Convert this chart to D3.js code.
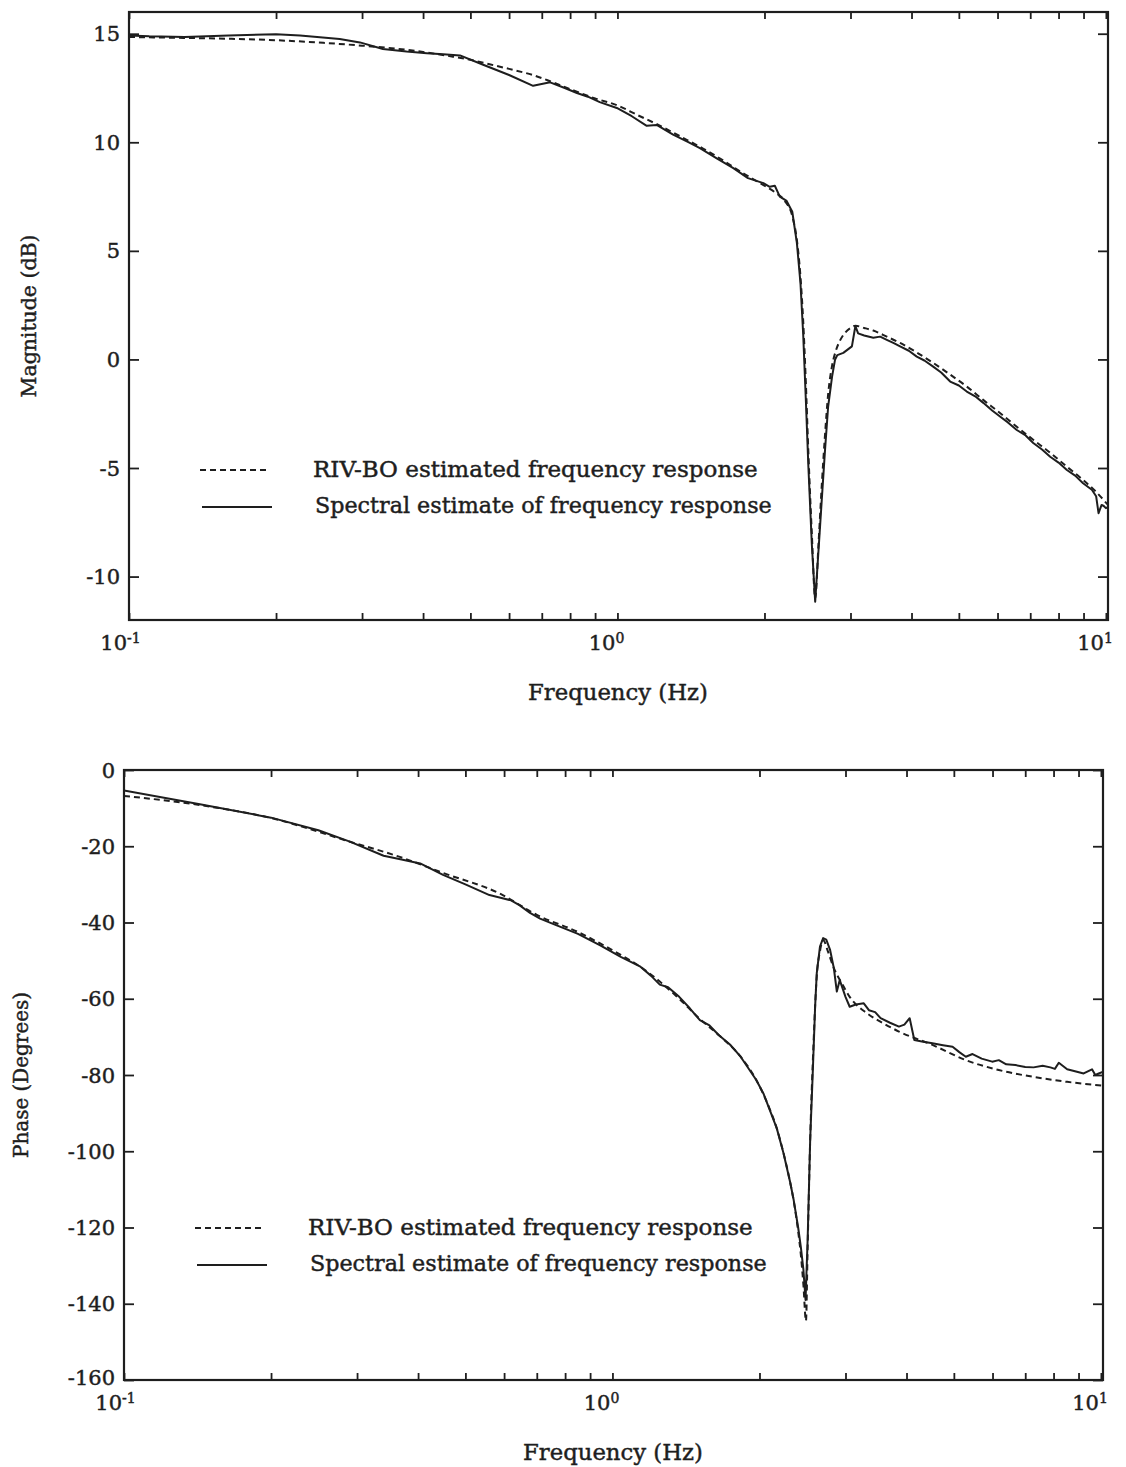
<!DOCTYPE html>
<html>
<head>
<meta charset="utf-8">
<script src="https://cdn.jsdelivr.net/npm/d3@7"></script>
<style>
  body { margin: 0; background: #fff; }
  svg { display: block; }
  text { stroke: #1e1e1e; stroke-width: 0.45px; }
</style>
</head>
<body>
<svg id="chart" width="1126" height="1467"></svg>
<script>
// ---------- Data ----------
// Frequency axis (Hz)
const freqDomain = [0.1, 10.1];
const decadeTicks = [0.1, 1, 10];
const decadeExponents = ["-1", "0", "1"];
const minorFreqTicks = [0.2, 0.3, 0.4, 0.5, 0.6, 0.7, 0.8, 0.9, 2, 3, 4, 5, 6, 7, 8, 9];

// Magnitude (dB) axis
const magDomain = [-12, 16];
const magTicks = [15, 10, 5, 0, -5, -10];

// Phase (degrees) axis
const phaseDomain = [-160, 0];
const phaseTicks = [0, -20, -40, -60, -80, -100, -120, -140, -160];

const legendLabels = ["RIV-BO estimated frequency response", "Spectral estimate of frequency response"];

// Magnitude: RIV-BO model response
const magRivFreq = [0.1, 0.12, 0.15, 0.2, 0.25, 0.3, 0.35, 0.4, 0.45, 0.5, 0.55, 0.6, 0.67, 0.73, 0.8, 0.9, 1.0, 1.1, 1.2, 1.35, 1.5, 1.65, 1.8, 2.0, 2.1, 2.2, 2.28, 2.33, 2.37, 2.4, 2.43, 2.46, 2.5, 2.54, 2.58, 2.62, 2.66, 2.7, 2.75, 2.8, 2.86, 2.93, 3.0, 3.07, 3.2, 3.34, 3.56, 3.79, 4.1, 4.43, 4.8, 5.19, 5.6, 6.07, 6.57, 7.1, 7.69, 8.32, 8.98, 9.5, 10.1];
const magRivDb   = [14.85, 14.82, 14.78, 14.7, 14.58, 14.45, 14.32, 14.16, 13.98, 13.8, 13.58, 13.38, 13.1, 12.8, 12.45, 12.02, 11.7, 11.25, 10.85, 10.25, 9.7, 9.15, 8.6, 8.0, 7.7, 7.3, 6.6, 5.5, 3.8, 1.8, -1.0, -4.3, -8.0, -11.0, -8.5, -5.8, -3.5, -1.6, -0.3, 0.4, 0.9, 1.25, 1.45, 1.55, 1.45, 1.33, 1.05, 0.76, 0.32, -0.16, -0.7, -1.25, -1.85, -2.47, -3.1, -3.7, -4.3, -4.94, -5.55, -6.05, -6.7];

// Magnitude: spectral estimate
const magSpecFreq = [0.1, 0.11, 0.13, 0.16, 0.2, 0.224, 0.27, 0.297, 0.331, 0.37, 0.407, 0.44, 0.476, 0.531, 0.6, 0.672, 0.728, 0.78, 0.826, 0.87, 0.92, 0.997, 1.07, 1.148, 1.203, 1.3, 1.4, 1.475, 1.6, 1.727, 1.85, 1.99, 2.05, 2.1, 2.15, 2.22, 2.28, 2.33, 2.37, 2.4, 2.43, 2.46, 2.5, 2.54, 2.58, 2.62, 2.66, 2.7, 2.75, 2.79, 2.82, 2.9, 3.02, 3.07, 3.11, 3.2, 3.34, 3.45, 3.56, 3.68, 3.79, 3.95, 4.1, 4.25, 4.43, 4.6, 4.8, 5.0, 5.19, 5.4, 5.61, 5.85, 6.07, 6.3, 6.57, 6.85, 7.1, 7.4, 7.69, 8.0, 8.32, 8.65, 8.98, 9.36, 9.55, 9.66, 9.8, 9.9, 10.0, 10.1];
const magSpecDb   = [14.92, 14.88, 14.85, 14.92, 14.98, 14.92, 14.76, 14.6, 14.3, 14.18, 14.1, 14.05, 14.0, 13.57, 13.1, 12.6, 12.76, 12.5, 12.27, 12.1, 11.85, 11.58, 11.2, 10.76, 10.8, 10.35, 10.0, 9.73, 9.25, 8.81, 8.35, 8.12, 7.95, 8.0, 7.5, 7.3, 6.8, 5.37, 3.5, 1.2, -1.8, -4.94, -8.5, -11.16, -8.8, -6.47, -4.2, -2.17, -0.8, 0.0, 0.2, 0.3, 0.6, 1.54, 1.2, 1.1, 1.0, 1.05, 0.9, 0.75, 0.6, 0.4, 0.13, -0.05, -0.33, -0.6, -1.02, -1.2, -1.48, -1.7, -2.0, -2.35, -2.63, -2.9, -3.25, -3.5, -3.85, -4.15, -4.48, -4.75, -5.09, -5.35, -5.7, -6.0, -6.3, -7.08, -6.7, -6.75, -6.85, -6.8];

// Phase: RIV-BO model response
const phaseRivFreq = [0.1, 0.143, 0.2, 0.29, 0.367, 0.45, 0.59, 0.7, 0.85, 0.944, 1.04, 1.138, 1.25, 1.37, 1.51, 1.65, 1.83, 1.97, 2.1, 2.17, 2.24, 2.31, 2.35, 2.4, 2.43, 2.46, 2.49, 2.51, 2.54, 2.58, 2.62, 2.66, 2.7, 2.76, 2.84, 2.95, 3.06, 3.32, 3.58, 3.86, 4.52, 5.29, 6.18, 7.28, 8.53, 10.1];
const phaseRivDeg  = [-6.8, -9.2, -12.6, -18.8, -22.8, -27.0, -32.5, -38.0, -42.5, -45.5, -48.5, -51.5, -55.5, -60.0, -65.3, -69.5, -75.2, -81.3, -89.0, -94.0, -100.5, -108.0, -113.0, -121.0, -127.0, -135.0, -144.5, -125.0, -97.0, -72.0, -54.0, -47.5, -44.6, -47.5, -52.0, -56.0, -59.5, -63.8, -66.4, -68.6, -72.1, -76.1, -78.7, -80.5, -81.8, -82.8];

// Phase: spectral estimate
const phaseSpecFreq = [0.1, 0.143, 0.2, 0.25, 0.29, 0.34, 0.37, 0.404, 0.45, 0.5, 0.56, 0.59, 0.62, 0.646, 0.678, 0.711, 0.76, 0.85, 0.944, 1.04, 1.138, 1.2, 1.25, 1.3, 1.37, 1.44, 1.51, 1.58, 1.65, 1.74, 1.83, 1.97, 2.04, 2.1, 2.17, 2.24, 2.31, 2.35, 2.4, 2.43, 2.46, 2.485, 2.51, 2.54, 2.57, 2.6, 2.62, 2.66, 2.7, 2.74, 2.79, 2.84, 2.88, 2.92, 3.0, 3.06, 3.15, 3.27, 3.35, 3.45, 3.54, 3.7, 3.86, 3.96, 4.06, 4.15, 4.3, 4.52, 4.75, 4.97, 5.13, 5.29, 5.46, 5.7, 5.99, 6.18, 6.4, 6.68, 7.0, 7.28, 7.6, 7.88, 8.05, 8.2, 8.53, 8.85, 9.22, 9.59, 9.74, 9.9, 10.12];
const phaseSpecDeg  = [-5.4, -9.0, -12.5, -15.8, -18.8, -22.5, -23.5, -24.5, -27.5, -30.0, -32.8, -33.5, -34.2, -35.5, -37.5, -39.0, -40.5, -43.0, -46.0, -49.0, -51.5, -54.0, -56.3, -57.0, -59.5, -62.5, -65.6, -67.0, -69.5, -72.0, -75.2, -81.3, -85.0, -89.2, -94.0, -100.5, -108.0, -112.8, -120.0, -125.0, -131.0, -139.0, -123.0, -97.0, -80.0, -62.0, -53.3, -46.3, -44.1, -44.5, -47.2, -52.0, -58.1, -55.1, -59.5, -62.1, -61.5, -61.2, -63.0, -63.5, -65.1, -66.3, -67.3, -66.8, -65.1, -70.8, -71.2, -71.7, -72.2, -72.6, -74.0, -75.2, -74.5, -75.7, -76.5, -76.1, -77.2, -77.4, -77.9, -78.0, -77.6, -78.0, -78.4, -76.8, -78.5, -79.0, -79.6, -78.5, -80.0, -79.6, -79.1];

// ---------- Drawing ----------
const svg = d3.select("#chart");
const FONT = "'DejaVu Serif', 'Liberation Serif', serif";
const INK = "#1e1e1e";

// Size a text element so that its rendered width equals the target width
function fitWidth(textSel, targetWidth) {
  textSel.attr("font-size", 100);
  const w = textSel.node().getComputedTextLength();
  const size = 100 * targetWidth / w;
  textSel.attr("font-size", size);
  return size;
}

const panels = [
  {
    id: "mag", left: 129, top: 12, right: 1108, bottom: 620,
    yDomain: magDomain, yTicks: magTicks, yTitle: "Magnitude (dB)",
    yTitleX: 36, yTitleWidth: 163,
    rivFreq: magRivFreq, rivVal: magRivDb, specFreq: magSpecFreq, specVal: magSpecDb
  },
  {
    id: "phase", left: 124, top: 770, right: 1103, bottom: 1380,
    yDomain: phaseDomain, yTicks: phaseTicks, yTitle: "Phase (Degrees)",
    yTitleX: 28, yTitleWidth: 166,
    rivFreq: phaseRivFreq, rivVal: phaseRivDeg, specFreq: phaseSpecFreq, specVal: phaseSpecDeg
  }
];

panels.forEach(p => {
  const g = svg.append("g").attr("class", "panel-" + p.id);
  const x = d3.scaleLog().domain(freqDomain).range([p.left, p.right]);
  const y = d3.scaleLinear().domain(p.yDomain).range([p.bottom, p.top]);
  const w = p.right - p.left, h = p.bottom - p.top;

  svg.append("defs").append("clipPath").attr("id", "clip-" + p.id)
    .append("rect").attr("x", p.left).attr("y", p.top).attr("width", w).attr("height", h);

  // Inward x ticks on bottom and top edges
  const xAxisBottom = d3.axisBottom(x).tickValues(decadeTicks.concat(minorFreqTicks))
    .tickSize(-7).tickFormat("");
  const xAxisTop = d3.axisTop(x).tickValues(decadeTicks.concat(minorFreqTicks))
    .tickSize(-7).tickFormat("");
  // Inward y ticks on left and right edges
  const yAxisLeft = d3.axisLeft(y).tickValues(p.yTicks).tickSize(-10).tickFormat("");
  const yAxisRight = d3.axisRight(y).tickValues(p.yTicks).tickSize(-10).tickFormat("");

  const axes = [
    g.append("g").attr("transform", `translate(0,${p.bottom})`).call(xAxisBottom),
    g.append("g").attr("transform", `translate(0,${p.top})`).call(xAxisTop),
    g.append("g").attr("transform", `translate(${p.left},0)`).call(yAxisLeft),
    g.append("g").attr("transform", `translate(${p.right},0)`).call(yAxisRight)
  ];
  axes.forEach(a => {
    a.select(".domain").remove();
    a.selectAll(".tick line").attr("stroke", INK).attr("stroke-width", 1.8);
  });

  // Frame
  g.append("rect").attr("x", p.left).attr("y", p.top).attr("width", w).attr("height", h)
    .attr("fill", "none").attr("stroke", INK).attr("stroke-width", 2.2);

  // Y tick labels (the lowest one sits just above the decade label below it)
  g.append("g").selectAll("text").data(p.yTicks).join("text")
    .attr("x", p.left - 9).attr("y", d => y(d) - (d === p.yDomain[0] ? 3 : 0)).attr("dy", "0.36em")
    .attr("text-anchor", "end").attr("font-family", FONT).attr("font-size", 21)
    .attr("fill", INK).text(d => d);

  // X decade labels: 10 with superscript exponent
  const xl = g.append("g").selectAll("g").data(decadeTicks).join("g");
  xl.append("text")
    .attr("x", d => x(d) - 2).attr("y", p.bottom + 30)
    .attr("text-anchor", "end").attr("font-family", FONT).attr("font-size", 21)
    .attr("fill", INK).text("10");
  xl.append("text")
    .attr("x", d => x(d) - 2).attr("y", p.bottom + 23)
    .attr("text-anchor", "start").attr("font-family", FONT).attr("font-size", 14)
    .attr("fill", INK).text((d, i) => decadeExponents[i]);

  // Axis titles
  const xt = g.append("text").attr("x", p.left + 489).attr("y", p.bottom + 80)
    .attr("text-anchor", "middle").attr("font-family", FONT).attr("fill", INK)
    .text("Frequency (Hz)");
  fitWidth(xt, 180);
  const yt = g.append("text")
    .attr("transform", `translate(${p.yTitleX},${(p.top + p.bottom) / 2}) rotate(-90)`)
    .attr("text-anchor", "middle").attr("font-family", FONT).attr("fill", INK)
    .text(p.yTitle);
  fitWidth(yt, p.yTitleWidth);

  // Curves
  const plot = g.append("g").attr("clip-path", `url(#clip-${p.id})`);
  const rivLine = d3.line().x(d => x(d[0])).y(d => y(d[1])).curve(d3.curveMonotoneX);
  const specLine = d3.line().x(d => x(d[0])).y(d => y(d[1]));

  plot.append("path").datum(d3.zip(p.specFreq, p.specVal))
    .attr("d", specLine).attr("fill", "none").attr("stroke", INK)
    .attr("stroke-width", 2).attr("stroke-linejoin", "round");
  plot.append("path").datum(d3.zip(p.rivFreq, p.rivVal))
    .attr("d", rivLine).attr("fill", "none").attr("stroke", INK)
    .attr("stroke-width", 2).attr("stroke-dasharray", "6,4");

  // Legend
  const lg = g.append("g");
  const l1y = p.top + 458, l2y = p.top + 495;
  lg.append("line").attr("x1", p.left + 71).attr("x2", p.left + 138)
    .attr("y1", l1y).attr("y2", l1y).attr("stroke", INK).attr("stroke-width", 2)
    .attr("stroke-dasharray", "6,4");
  lg.append("line").attr("x1", p.left + 73).attr("x2", p.left + 143)
    .attr("y1", l2y).attr("y2", l2y).attr("stroke", INK).attr("stroke-width", 2);
  const t1 = lg.append("text").attr("x", p.left + 184).attr("y", l1y + 7)
    .attr("font-family", FONT).attr("fill", INK).text(legendLabels[0]);
  fitWidth(t1, 445);
  const t2 = lg.append("text").attr("x", p.left + 186).attr("y", l2y + 6)
    .attr("font-family", FONT).attr("fill", INK).text(legendLabels[1]);
  fitWidth(t2, 457);
});
</script>
</body>
</html>
